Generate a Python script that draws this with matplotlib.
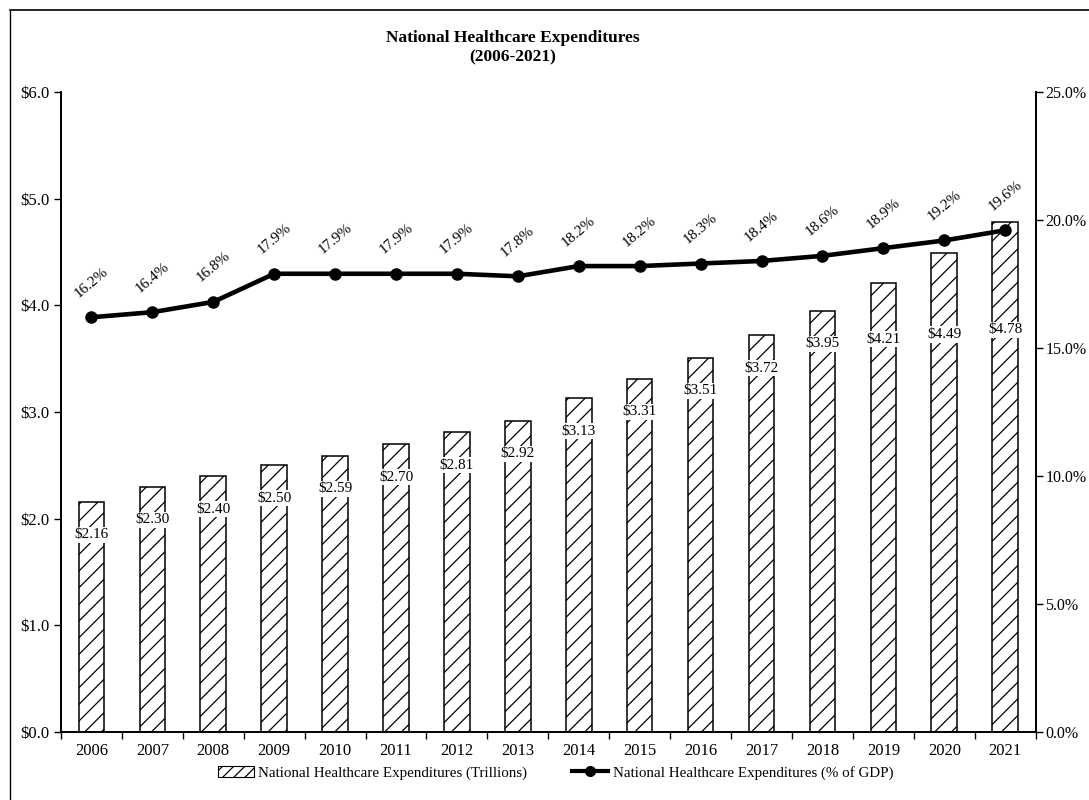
import matplotlib
matplotlib.use("Agg")
import matplotlib.pyplot as plt
from matplotlib.lines import Line2D
from matplotlib.patches import Patch
from matplotlib.ticker import FuncFormatter, MultipleLocator
import numpy as np

plt.rcParams['font.family'] = ['Liberation Serif', 'DejaVu Serif']
plt.rcParams['hatch.linewidth'] = 0.9

years = [str(y) for y in range(2006, 2022)]
spending_trillions = [2.16, 2.30, 2.40, 2.50, 2.59, 2.70, 2.81, 2.92,
                      3.13, 3.31, 3.51, 3.72, 3.95, 4.21, 4.49, 4.78]
pct_gdp = [16.2, 16.4, 16.8, 17.9, 17.9, 17.9, 17.9, 17.8,
           18.2, 18.2, 18.3, 18.4, 18.6, 18.9, 19.2, 19.6]

fig = plt.figure(figsize=(10.89, 8.0), dpi=100)
ax = fig.add_axes([0.056, 0.085, 0.895, 0.80])
ax2 = ax.twinx()

x = np.arange(len(years))

# Hatched bars for spending
bars = ax.bar(x, spending_trillions, width=0.42, color='white',
              edgecolor='black', linewidth=1.1, hatch='//', zorder=2)

# Value labels inside the bars, pushed lower where the line would cover them
for xi, v in zip(x, spending_trillions):
    ly = v - 0.31 - 0.84 * max(0.0, v - 3.95)
    ax.text(xi, ly, f"${v:.2f}", ha='center', va='center', fontsize=11,
            zorder=3, bbox=dict(boxstyle='square,pad=0.1', fc='white', ec='none'))

ax.set_xlim(-0.5, len(years) - 0.5)
ax.set_ylim(0, 6.0)
ax.yaxis.set_major_locator(MultipleLocator(1.0))
ax.yaxis.set_major_formatter(FuncFormatter(lambda v, p: f"${v:.1f}"))

# Year labels centred on bars, ticks at category boundaries
ax.set_xticks(x)
ax.set_xticklabels(years, fontsize=12)
ax.tick_params(axis='x', which='major', length=0, pad=8)
ax.set_xticks(np.arange(-0.5, len(years) + 0.5, 1.0), minor=True)
ax.tick_params(axis='x', which='minor', length=5, width=1.0, direction='out')
ax.tick_params(axis='y', labelsize=12, length=5, width=1.0, direction='out')

# Percent-of-GDP line on the secondary axis
ax2.plot(x, pct_gdp, color='black', linewidth=3.3, marker='o', markersize=8,
         zorder=4)
for xi, p in zip(x, pct_gdp):
    ax2.annotate(f"{p:.1f}%", (xi, p), xytext=(0, 25), textcoords='offset points',
                 ha='center', va='center', rotation=40, fontsize=11)
ax2.set_ylim(0, 25.0)
ax2.yaxis.set_major_locator(MultipleLocator(5.0))
ax2.yaxis.set_major_formatter(FuncFormatter(lambda v, p: f"{v:.1f}%"))
ax2.tick_params(axis='y', labelsize=11.5, length=5, width=1.0, direction='out',
                pad=2)

for a in (ax, ax2):
    a.spines['top'].set_visible(False)
    for s in ('left', 'right', 'bottom'):
        a.spines[s].set_linewidth(1.3)
ax.set_zorder(ax2.get_zorder() - 1)
ax.patch.set_visible(True)
ax2.patch.set_visible(False)

fig.text(0.471, 0.953, "National Healthcare Expenditures", ha='center', va='center',
         fontsize=12.5, fontweight='bold')
fig.text(0.471, 0.928, "(2006-2021)", ha='center', va='center',
         fontsize=12.5, fontweight='bold')

handles = [
    Patch(facecolor='white', edgecolor='black', hatch='///', linewidth=0.8),
    Line2D([0], [0], color='black', linewidth=3, marker='o', markersize=7),
]
labels = ["National Healthcare Expenditures (Trillions)",
          "National Healthcare Expenditures (% of GDP)"]
fig.legend(handles, labels, loc='center', bbox_to_anchor=(0.51, 0.034), ncol=2,
           frameon=False, fontsize=10.8, columnspacing=3.0, handlelength=2.4,
           handletextpad=0.3)

# Page border lines
fig.add_artist(Line2D([0.009, 1.0], [0.988, 0.988], color='black', linewidth=1.2,
                      transform=fig.transFigure))
fig.add_artist(Line2D([0.009, 0.009], [0.0, 0.988], color='black', linewidth=1.0,
                      transform=fig.transFigure))

fig.savefig("out.png", dpi=100)
